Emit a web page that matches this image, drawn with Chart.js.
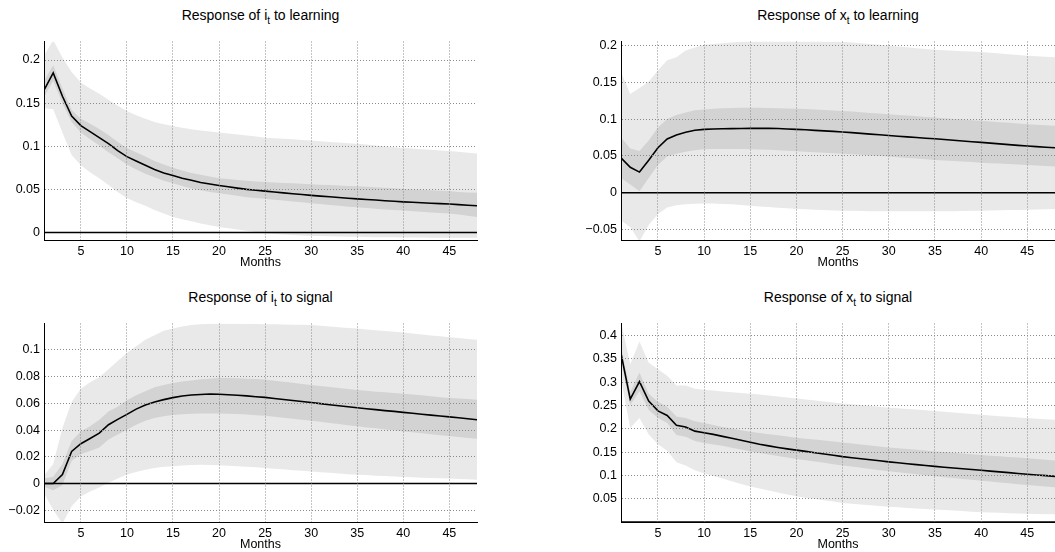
<!DOCTYPE html>
<html>
<head>
<meta charset="utf-8">
<script src="https://cdn.jsdelivr.net/npm/chart.js@4.4.1/dist/chart.umd.min.js"></script>
<style>
  html, body { margin: 0; padding: 0; background: #fff; overflow: hidden; }
  body { width: 1055px; height: 552px; position: relative; font-family: "Liberation Sans", Arial, Helvetica, sans-serif; }
  canvas { position: absolute; }
  .ptitle { position: absolute; text-align: center; font-size: 14px; line-height: 18px; color: #000; white-space: nowrap; }
  .ptitle sub { font-size: 10px; vertical-align: -4px; line-height: 0; }
</style>
</head>
<body>
<div class="ptitle" style="left:44px;top:6px;width:433px">Response of i<sub>t</sub> to learning</div>
<div class="ptitle" style="left:621px;top:6px;width:434px">Response of x<sub>t</sub> to learning</div>
<div class="ptitle" style="left:44px;top:288px;width:433px">Response of i<sub>t</sub> to signal</div>
<div class="ptitle" style="left:621px;top:288px;width:434px">Response of x<sub>t</sub> to signal</div>

<canvas id="chart-i-learning" width="527" height="240" style="left:0;top:30px"></canvas>
<canvas id="chart-x-learning" width="478" height="240" style="left:577px;top:30px"></canvas>
<canvas id="chart-i-signal" width="527" height="240" style="left:0;top:312px"></canvas>
<canvas id="chart-x-signal" width="478" height="240" style="left:577px;top:312px"></canvas>

<script>
const months = [1,2,3,4,5,6,7,8,9,10,11,12,13,14,15,16,17,18,19,20,21,22,23,24,25,26,27,28,29,30,31,32,33,34,35,36,37,38,39,40,41,42,43,44,45,46,47,48];
const monthTicks = [5,10,15,20,25,30,35,40,45];

// i_t to learning
const iLearnMedian = [0.165,0.185,0.158,0.135,0.124,0.117,0.110,0.103,0.095,0.088,0.083,0.078,0.073,0.069,0.066,0.063,0.0605,0.058,0.0562,0.0545,0.053,0.0515,0.050,0.049,0.048,0.047,0.046,0.045,0.044,0.043,0.0422,0.0414,0.0406,0.0398,0.039,0.0383,0.0376,0.0369,0.0362,0.0355,0.035,0.0345,0.034,0.0335,0.033,0.0323,0.0316,0.031];
const iLearnInnerHi = [0.176,0.194,0.167,0.142,0.132,0.126,0.120,0.113,0.105,0.098,0.093,0.088,0.083,0.079,0.075,0.072,0.069,0.067,0.065,0.063,0.062,0.061,0.060,0.059,0.0585,0.058,0.0575,0.057,0.0565,0.056,0.0555,0.055,0.0545,0.054,0.0535,0.053,0.0525,0.052,0.0513,0.0505,0.050,0.0495,0.049,0.0485,0.048,0.047,0.0465,0.046];
const iLearnInnerLo = [0.157,0.176,0.150,0.128,0.116,0.108,0.101,0.093,0.086,0.079,0.073,0.068,0.064,0.060,0.057,0.054,0.051,0.049,0.047,0.0455,0.044,0.0425,0.041,0.040,0.039,0.038,0.037,0.036,0.035,0.034,0.033,0.032,0.031,0.030,0.0292,0.0284,0.0276,0.0268,0.0261,0.0254,0.0247,0.024,0.0233,0.0226,0.0219,0.021,0.0195,0.018];
const iLearnOuterHi = [0.205,0.223,0.203,0.186,0.174,0.167,0.161,0.154,0.147,0.141,0.136,0.132,0.128,0.1255,0.1235,0.1215,0.1198,0.1182,0.117,0.116,0.1148,0.1136,0.1124,0.1112,0.110,0.1093,0.1086,0.108,0.1073,0.1066,0.1058,0.105,0.1043,0.1036,0.103,0.102,0.101,0.100,0.099,0.098,0.0973,0.0966,0.0959,0.0952,0.0945,0.0935,0.0925,0.0915];
const iLearnOuterLo = [0.144,0.143,0.116,0.090,0.078,0.070,0.063,0.055,0.047,0.040,0.035,0.031,0.026,0.022,0.018,0.0155,0.013,0.0105,0.0085,0.0065,0.005,0.0035,0.002,0.0005,-0.001,-0.0016,-0.0022,-0.0028,-0.0034,-0.004,-0.0042,-0.0044,-0.0046,-0.0048,-0.005,-0.0052,-0.0054,-0.0055,-0.0056,-0.0057,-0.0058,-0.0059,-0.006,-0.006,-0.006,-0.006,-0.006,-0.006];

// x_t to learning
const xLearnMedian = [0.0475,0.0346,0.028,0.044,0.061,0.073,0.0785,0.082,0.0847,0.086,0.0865,0.0868,0.087,0.0872,0.0874,0.0874,0.0873,0.0871,0.0866,0.086,0.0854,0.0847,0.084,0.0833,0.0825,0.0816,0.0806,0.0796,0.0786,0.0776,0.0767,0.0758,0.0749,0.074,0.0732,0.0722,0.0712,0.0702,0.0692,0.0683,0.0673,0.0663,0.0653,0.0643,0.0634,0.0626,0.0618,0.061];
const xLearnInnerHi = [0.0754,0.060,0.0568,0.071,0.0887,0.100,0.1055,0.109,0.112,0.113,0.114,0.1147,0.115,0.1153,0.1153,0.1152,0.115,0.1147,0.1143,0.114,0.1135,0.113,0.1123,0.1117,0.111,0.1101,0.1092,0.1083,0.1074,0.1065,0.1056,0.1047,0.1038,0.1029,0.102,0.1011,0.1002,0.0993,0.0984,0.0976,0.0967,0.0958,0.0949,0.094,0.093,0.0923,0.0916,0.091];
const xLearnInnerLo = [0.020,0.011,0.002,0.020,0.0377,0.049,0.053,0.0555,0.0577,0.059,0.0592,0.0593,0.0593,0.0592,0.059,0.0587,0.0582,0.0577,0.057,0.0563,0.0556,0.0549,0.0543,0.0537,0.053,0.0522,0.0514,0.0506,0.0498,0.049,0.0481,0.0472,0.0463,0.0454,0.0444,0.0437,0.043,0.0423,0.0416,0.0408,0.0401,0.0395,0.0389,0.0383,0.0377,0.037,0.0362,0.0355];
const xLearnOuterHi = [0.164,0.134,0.142,0.151,0.166,0.180,0.184,0.193,0.197,0.201,0.202,0.203,0.204,0.205,0.2055,0.206,0.206,0.206,0.206,0.206,0.206,0.2058,0.2055,0.2052,0.2048,0.204,0.203,0.202,0.2008,0.1996,0.1985,0.1974,0.1962,0.195,0.194,0.1934,0.1928,0.1922,0.1916,0.191,0.190,0.189,0.188,0.187,0.186,0.1853,0.1846,0.184];
const xLearnOuterLo = [-0.0377,-0.0466,-0.066,-0.044,-0.029,-0.020,-0.0169,-0.0155,-0.015,-0.0146,-0.0148,-0.0152,-0.0158,-0.0167,-0.0177,-0.0186,-0.0195,-0.0204,-0.0212,-0.022,-0.0225,-0.023,-0.0235,-0.024,-0.0244,-0.0246,-0.0248,-0.025,-0.0252,-0.0253,-0.0253,-0.0253,-0.0253,-0.0253,-0.0253,-0.0252,-0.025,-0.0248,-0.0246,-0.0244,-0.0242,-0.0239,-0.0236,-0.0233,-0.023,-0.0227,-0.0224,-0.022];

// i_t to signal
const iSignalMedian = [0,0,0.0068,0.024,0.0298,0.0337,0.0377,0.044,0.048,0.0518,0.0557,0.0587,0.0611,0.0628,0.0643,0.0655,0.0663,0.0667,0.067,0.0668,0.0665,0.0661,0.0656,0.065,0.0645,0.0637,0.0629,0.0621,0.0614,0.0606,0.0598,0.059,0.0582,0.0575,0.0567,0.056,0.0553,0.0546,0.054,0.0533,0.0526,0.0519,0.0512,0.0506,0.0499,0.0492,0.0485,0.0477];
const iSignalInnerHi = [0.0037,0.005,0.0147,0.0318,0.039,0.0428,0.0477,0.054,0.0575,0.0623,0.066,0.069,0.072,0.0738,0.0753,0.0763,0.0772,0.078,0.0785,0.079,0.079,0.0788,0.0785,0.0782,0.0778,0.077,0.0762,0.0754,0.0746,0.0738,0.073,0.0722,0.0715,0.0708,0.070,0.0694,0.0688,0.0683,0.0678,0.0672,0.0666,0.066,0.0653,0.0646,0.064,0.0636,0.0632,0.0628];
const iSignalInnerLo = [-0.0024,-0.005,-0.0012,0.017,0.022,0.0244,0.0269,0.033,0.0367,0.0403,0.044,0.047,0.049,0.0503,0.0513,0.0518,0.0522,0.0525,0.0525,0.0525,0.0523,0.052,0.0516,0.0512,0.0508,0.050,0.0493,0.0485,0.0478,0.047,0.0462,0.0453,0.0445,0.0436,0.0428,0.042,0.0413,0.0405,0.0398,0.039,0.0383,0.0376,0.0369,0.0362,0.0355,0.0348,0.0341,0.0335];
const iSignalOuterHi = [0.006,0.0147,0.0416,0.061,0.071,0.0758,0.0795,0.0856,0.0917,0.0978,0.1027,0.1076,0.111,0.1144,0.116,0.1175,0.1186,0.1193,0.1197,0.1198,0.1198,0.1197,0.1196,0.1195,0.1193,0.1192,0.119,0.1189,0.1188,0.1186,0.1182,0.1176,0.117,0.1165,0.116,0.1154,0.1148,0.1142,0.1136,0.113,0.1123,0.1116,0.1109,0.1102,0.1095,0.1089,0.1082,0.1076];
const iSignalOuterLo = [-0.0073,-0.0196,-0.030,-0.017,-0.0098,-0.006,-0.0029,0.0005,0.0037,0.0068,0.0086,0.0103,0.0117,0.0125,0.013,0.0135,0.0138,0.014,0.0139,0.0137,0.0134,0.013,0.0126,0.0121,0.0117,0.0111,0.0106,0.010,0.0095,0.009,0.0085,0.008,0.0075,0.007,0.0066,0.0063,0.0059,0.0056,0.0052,0.0049,0.0047,0.0044,0.0042,0.0039,0.0037,0.0034,0.0032,0.0029];

// x_t to signal
const xSignalMedian = [0.3616,0.2636,0.3014,0.2594,0.2384,0.2286,0.2076,0.204,0.195,0.1915,0.188,0.1838,0.1796,0.1754,0.1712,0.167,0.1634,0.160,0.157,0.1543,0.1515,0.1487,0.1459,0.1431,0.1403,0.138,0.1358,0.1335,0.1313,0.129,0.127,0.1251,0.1232,0.1212,0.1193,0.1176,0.1159,0.1143,0.1126,0.1109,0.1092,0.1076,0.1059,0.1042,0.1025,0.101,0.0995,0.098];
const xSignalInnerHi = [0.377,0.279,0.321,0.2755,0.258,0.2475,0.2265,0.223,0.216,0.2125,0.2083,0.204,0.2005,0.197,0.1935,0.191,0.1885,0.186,0.1835,0.181,0.1789,0.1768,0.1747,0.1726,0.1705,0.1684,0.1663,0.1642,0.1621,0.160,0.1583,0.1566,0.1549,0.1532,0.1515,0.150,0.1484,0.1469,0.1453,0.1438,0.1424,0.141,0.1396,0.1382,0.1368,0.1352,0.1336,0.132];
const xSignalInnerLo = [0.3455,0.251,0.2804,0.2405,0.223,0.2125,0.1866,0.183,0.174,0.1697,0.1665,0.1634,0.1595,0.1555,0.1515,0.1483,0.1451,0.1418,0.1386,0.1354,0.1326,0.1298,0.127,0.1242,0.1214,0.1189,0.1164,0.1138,0.1113,0.1088,0.1067,0.1046,0.1025,0.1004,0.0983,0.0963,0.0944,0.0924,0.0905,0.0885,0.0867,0.0849,0.083,0.0812,0.0794,0.0778,0.0761,0.0745];
const xSignalOuterHi = [0.43,0.3385,0.3875,0.342,0.328,0.314,0.293,0.293,0.286,0.2839,0.282,0.280,0.2785,0.277,0.2755,0.2734,0.2713,0.2692,0.2671,0.265,0.2629,0.2608,0.2587,0.2566,0.2545,0.2527,0.2509,0.249,0.2472,0.2454,0.244,0.2426,0.2412,0.2398,0.2384,0.2367,0.235,0.2334,0.2317,0.230,0.2286,0.2272,0.2258,0.2244,0.223,0.2218,0.2207,0.2195];
const xSignalOuterLo = [0.307,0.202,0.223,0.188,0.167,0.153,0.1284,0.1214,0.111,0.104,0.0987,0.0934,0.0876,0.0818,0.076,0.0718,0.0676,0.0634,0.0592,0.055,0.0522,0.0494,0.0466,0.0438,0.041,0.0393,0.0376,0.0359,0.0342,0.0325,0.0314,0.0303,0.0292,0.0281,0.027,0.0258,0.0246,0.0234,0.0222,0.021,0.0203,0.0196,0.0189,0.0182,0.0175,0.0171,0.0167,0.0164];

const iLearnTicks = [0, 0.05, 0.1, 0.15, 0.2];
const xLearnTicks = [-0.05, 0, 0.05, 0.1, 0.15, 0.2];
const iSignalTicks = [-0.02, 0, 0.02, 0.04, 0.06, 0.08, 0.1];
const xSignalTicks = [0.05, 0.1, 0.15, 0.2, 0.25, 0.3, 0.35, 0.4];

const FONT = "'Liberation Sans', Arial, Helvetica, sans-serif";
const OUTER_FILL = "#e9e9e9";
const INNER_FILL = "#d3d3d3";
const GRID_COLOR = "#8a8a8a";

function fmtTick(v) {
  const s = String(Math.round(v * 1000) / 1000);
  return s.replace("-", "\u2212");
}

function band(data, fill, color, order) {
  return { data, fill, backgroundColor: color, borderWidth: 0, pointRadius: 0, tension: 0, order };
}

// no dotted grid over the solid zero line
function gridColor(c) {
  return c.tick && Math.abs(c.tick.value) < 1e-9 ? "rgba(0,0,0,0)" : GRID_COLOR;
}

function makePanel(id, p) {
  const zero = months.map(() => 0);
  return new Chart(document.getElementById(id), {
    type: "line",
    data: {
      labels: months,
      datasets: [
        { data: p.median, borderColor: "#000", borderWidth: 1.6, pointRadius: 0, tension: 0, fill: false, order: 0 },
        { data: zero, borderColor: "#000", borderWidth: 1.4, pointRadius: 0, tension: 0, fill: false, order: 1 },
        band(p.innerHi, "+1", INNER_FILL, 2),
        band(p.innerLo, false, INNER_FILL, 3),
        band(p.outerHi, "+1", OUTER_FILL, 4),
        band(p.outerLo, false, OUTER_FILL, 5)
      ]
    },
    options: {
      responsive: false,
      animation: false,
      events: [],
      layout: { padding: { top: 7, right: p.padRight, left: 0, bottom: 0 } },
      plugins: { legend: { display: false }, tooltip: { enabled: false }, title: { display: false } },
      scales: {
        x: {
          type: "linear",
          min: 1,
          max: 48,
          afterBuildTicks: (s) => { s.ticks = monthTicks.map((v) => ({ value: v })); },
          afterFit: (s) => { s.height = 30; },
          grid: { color: GRID_COLOR, lineWidth: 1, drawTicks: false, z: 1 },
          border: { display: true, color: "#000", width: 1, dash: [1, 2], z: 2 },
          ticks: { padding: 4, color: "#000", font: { family: FONT, size: 12.5 }, maxRotation: 0 },
          title: { display: true, text: "Months", color: "#000", font: { family: FONT, size: 12.5 }, padding: { top: 0, bottom: 0 } }
        },
        y: {
          type: "linear",
          min: p.yMin,
          max: p.yMax,
          afterBuildTicks: (s) => { s.ticks = p.yTicks.map((v) => ({ value: v })); },
          afterFit: (s) => { s.width = 44; },
          grid: { color: gridColor, lineWidth: 1, drawTicks: false, z: 1 },
          border: { display: true, color: "#000", width: 1, dash: [1, 2], z: 2 },
          ticks: { padding: 4, color: "#000", font: { family: FONT, size: 12.5 }, callback: (v) => fmtTick(v) }
        }
      }
    }
  });
}

makePanel("chart-i-learning", {
  median: iLearnMedian, innerHi: iLearnInnerHi, innerLo: iLearnInnerLo, outerHi: iLearnOuterHi, outerLo: iLearnOuterLo,
  yMin: -0.0087, yMax: 0.2215, yTicks: iLearnTicks, padRight: 50
});
makePanel("chart-x-learning", {
  median: xLearnMedian, innerHi: xLearnInnerHi, innerLo: xLearnInnerLo, outerHi: xLearnOuterHi, outerLo: xLearnOuterLo,
  yMin: -0.0642, yMax: 0.2053, yTicks: xLearnTicks, padRight: 0
});
makePanel("chart-i-signal", {
  median: iSignalMedian, innerHi: iSignalInnerHi, innerLo: iSignalInnerLo, outerHi: iSignalOuterHi, outerLo: iSignalOuterLo,
  yMin: -0.0288, yMax: 0.1198, yTicks: iSignalTicks, padRight: 50
});
makePanel("chart-x-signal", {
  median: xSignalMedian, innerHi: xSignalInnerHi, innerLo: xSignalInnerLo, outerHi: xSignalOuterHi, outerLo: xSignalOuterLo,
  yMin: 0, yMax: 0.426, yTicks: xSignalTicks, padRight: 0
});
</script>
</body>
</html>
